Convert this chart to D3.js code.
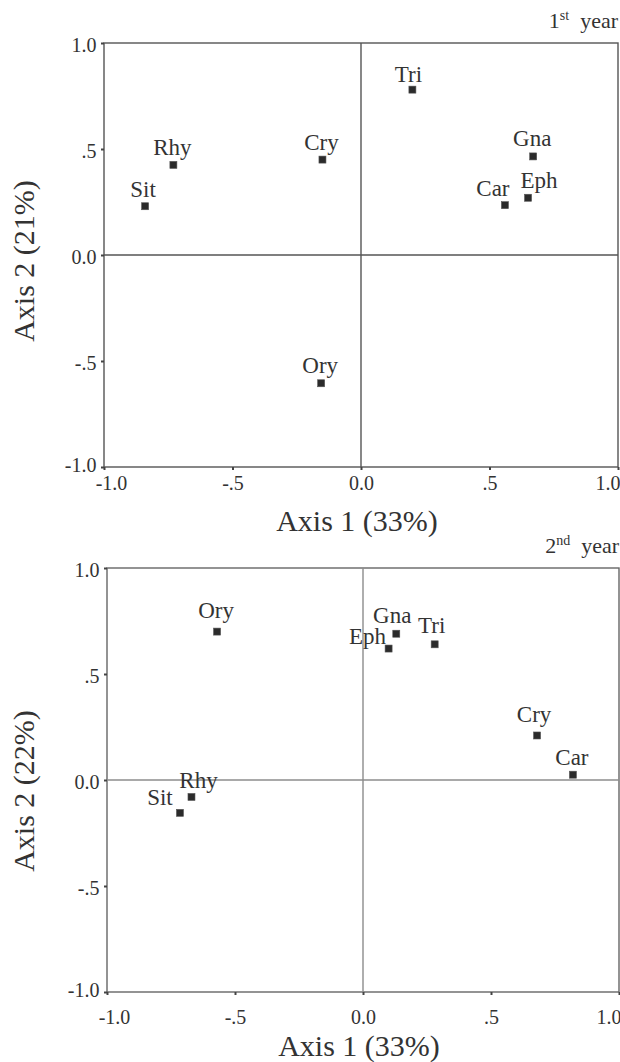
<!DOCTYPE html>
<html>
<head>
<meta charset="utf-8">
<script src="https://cdn.jsdelivr.net/npm/d3@7"></script>
<style>
  body { margin: 0; background: #fff; }
  svg text { font-family: "Liberation Serif", Tinos, "Times New Roman", "DejaVu Serif", serif !important; fill: #333; }
</style>
</head>
<body>
<svg id="svg0"></svg>
<script>
// ordination scores
let species = ['Tri', 'Rhy', 'Sit', 'Cry', 'Gna', 'Eph', 'Car', 'Ory'];
let year1X = [0.20, -0.73, -0.84, -0.15, 0.67, 0.65, 0.56, -0.155];
let year1Y = [0.78, 0.425, 0.23, 0.45, 0.465, 0.27, 0.235, -0.605];
let year2X = [0.28, -0.67, -0.715, 0.68, 0.13, 0.10, 0.82, -0.57];
let year2Y = [0.64, -0.08, -0.155, 0.21, 0.69, 0.62, 0.025, 0.70];

let tickValues = [-1, -0.5, 0, 0.5, 1];
let tickLabels = ['-1.0', '-.5', '0.0', '.5', '1.0'];

let width = 620;
let height = 1062;

let svg = d3.select('#svg0').attr('width', width).attr('height', height);

// label nudges in px, relative to the point (default is centred above)
let labelNudge1 = {Tri: [-4, -8], Eph: [11, -10], Car: [-12, -9], Sit: [-2, -9]};
let labelNudge2 = {Ory: [-1, -14], Gna: [-4, -11], Tri: [-3, -11], Eph: [-21, -5],
                   Cry: [-3, -13], Rhy: [7, -9], Sit: [-20, -8]};

function drawPanel(p){
    let xScale = d3.scaleLinear().domain([-1, 1]).range([p.left, p.right]);
    let yScale = d3.scaleLinear().domain([-1, 1]).range([p.bottom, p.top]);
    let g = svg.append('g');

    // frame
    g.append('rect')
        .attr('x', p.left).attr('y', p.top)
        .attr('width', p.right - p.left).attr('height', p.bottom - p.top)
        .style('fill', 'none').style('stroke', p.frameColor).style('stroke-width', '1.4px');

    // zero lines
    g.append('line')
        .attr('x1', p.left).attr('x2', p.right)
        .attr('y1', yScale(0)).attr('y2', yScale(0))
        .style('stroke', p.zeroColor).style('stroke-width', '1.4px');
    g.append('line')
        .attr('x1', xScale(0)).attr('x2', xScale(0))
        .attr('y1', p.top).attr('y2', p.bottom)
        .style('stroke', p.zeroColor).style('stroke-width', '1.4px');

    // axes
    let fmt = v=>{return tickLabels[tickValues.indexOf(v)];};
    let yAxis = g.append('g').attr('transform', 'translate(' + p.left + ',0)')
        .call(d3.axisLeft(yScale).tickValues(tickValues).tickFormat(fmt).tickSize(3).tickPadding(4.5));
    let xAxis = g.append('g').attr('transform', 'translate(0,' + p.bottom + ')')
        .call(d3.axisBottom(xScale).tickValues(tickValues).tickFormat(fmt).tickSize(3).tickPadding(p.xPad));
    [xAxis, yAxis].forEach(a=>{
        a.attr('font-family', null);
        a.select('.domain').remove();
        a.selectAll('line').style('stroke', '#444').style('stroke-width', '2px');
        a.selectAll('text').style('font-size', '20px').style('fill', '#333');
    });
    yAxis.selectAll('text').attr('dy', d=>{return d === -1 ? '0.2em' : '0.42em';});
    // end labels are pulled inwards a little, as in the original
    xAxis.selectAll('.tick').filter(d=>{return d === -1;}).select('text').attr('x', 7);
    xAxis.selectAll('.tick').filter(d=>{return d === 1;}).select('text')
        .attr('x', 2).style('text-anchor', 'end');

    // axis titles
    g.append('text')
        .attr('x', (p.left + p.right)/2 - 4).attr('y', p.xTitleY)
        .style('text-anchor', 'middle').style('font-size', '30px')
        .text('Axis 1 (33%)');
    g.append('text')
        .attr('transform', 'translate(34,' + p.yTitleY + ') rotate(-90)')
        .style('text-anchor', 'middle').style('font-size', '30px')
        .text(p.yTitle);

    // year caption
    let cap = g.append('text')
        .attr('x', p.right).attr('y', p.capY)
        .style('text-anchor', 'end').style('font-size', '22px');
    cap.append('tspan').text(p.capNum);
    cap.append('tspan').attr('dy', -8).style('font-size', '14px').text(p.capSup);
    cap.append('tspan').attr('dy', 8).text('\u00a0 year');

    // points
    let pts = species.map((s, i)=>{return {name: s, x: p.xs[i], y: p.ys[i]};});
    g.selectAll('.pt').data(pts).enter().append('rect')
        .attr('class', 'pt')
        .attr('x', d=>{return xScale(d.x) - 3.5;})
        .attr('y', d=>{return yScale(d.y) - 3.5;})
        .attr('width', 7).attr('height', 7)
        .style('fill', '#2b2b2b').style('stroke', '#555').style('stroke-width', 0.6);

    g.selectAll('.lbl').data(pts).enter().append('text')
        .attr('class', 'lbl')
        .attr('x', d=>{return xScale(d.x) + (p.nudge[d.name] ? p.nudge[d.name][0] : -1);})
        .attr('y', d=>{return yScale(d.y) + (p.nudge[d.name] ? p.nudge[d.name][1] : -10);})
        .style('text-anchor', 'middle').style('font-size', '23px')
        .text(d=>{return d.name;});
}

drawPanel({left: 104, right: 618, top: 43, bottom: 467, xPad: 5.5,
    frameColor: '#555', zeroColor: '#555',
    xTitleY: 531, yTitleY: 261, yTitle: 'Axis 2 (21%)',
    capY: 28, capNum: '1', capSup: 'st',
    xs: year1X, ys: year1Y, nudge: labelNudge1});

drawPanel({left: 107, right: 619, top: 568, bottom: 992, xPad: 15,
    frameColor: '#666', zeroColor: '#8c8c8c',
    xTitleY: 1056, yTitleY: 791, yTitle: 'Axis 2 (22%)',
    capY: 553, capNum: '2', capSup: 'nd',
    xs: year2X, ys: year2Y, nudge: labelNudge2});
</script>
</body>
</html>
